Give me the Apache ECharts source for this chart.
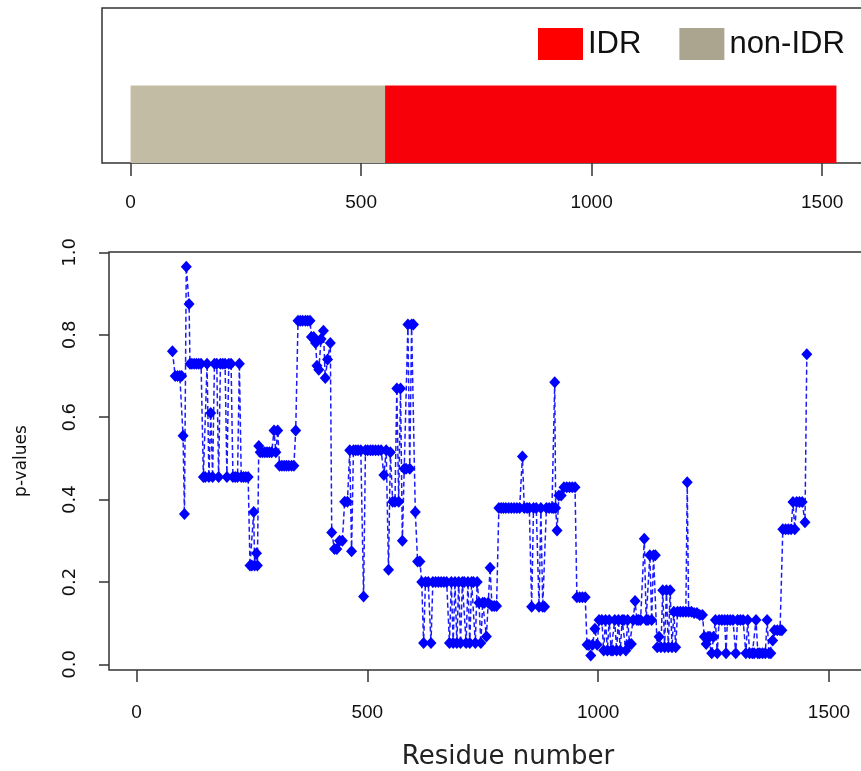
<!DOCTYPE html>
<html>
<head>
<meta charset="utf-8">
<title>IDR p-values</title>
<script src="https://cdn.jsdelivr.net/npm/echarts@6/dist/echarts.min.js"></script>
<style>
  html, body { margin: 0; padding: 0; background: #fff; }
  #chart { width: 861px; height: 771px; }
</style>
</head>
<body>
<div id="chart"></div>
<script>
// top panel: region segments
const segmentNames = ['non-IDR', 'IDR']
const segmentStart = [0, 552]
const segmentEnd = [552, 1531]

// bottom panel: p-value per residue
const residueNumber = [
  78, 84, 89, 94, 98, 101, 104, 108, 114, 116, 120, 125, 130, 135, 140,
  145, 149, 153, 157, 161, 165, 169, 174, 178, 182, 187, 192, 196, 200, 205,
  209, 214, 219, 223, 227, 232, 237, 242, 246, 250, 254, 256, 260, 262, 265,
  268, 273, 278, 283, 288, 293, 298, 302, 306, 310, 315, 320, 325, 330, 336,
  341, 345, 350, 355, 360, 366, 371, 376, 379, 384, 388, 391, 395, 400, 405,
  409, 414, 420, 423, 429, 434, 440, 446, 451, 457, 462, 466, 470, 475, 480,
  486, 492, 496, 501, 507, 512, 518, 524, 530, 536, 541, 546, 550, 555, 560,
  564, 568, 572, 576, 580, 584, 588, 592, 596, 600, 604, 609, 614, 618, 622,
  626, 632, 638, 642, 648, 654, 660, 666, 672, 678, 682, 686, 690, 694, 698,
  702, 706, 710, 714, 718, 722, 726, 730, 734, 738, 742, 746, 750, 754, 758,
  762, 766, 770, 775, 780, 785, 790, 795, 800, 806, 812, 818, 824, 830, 836,
  840, 846, 851, 856, 860, 866, 872, 876, 880, 884, 888, 894, 900, 904, 906,
  908, 911, 915, 920, 926, 932, 938, 944, 950, 954, 960, 966, 972, 976, 980,
  984, 988, 993, 998, 1002, 1008, 1012, 1016, 1020, 1024, 1028, 1032, 1036, 1040, 1044,
  1048, 1052, 1056, 1060, 1064, 1068, 1072, 1076, 1080, 1084, 1088, 1092, 1100, 1104, 1108,
  1112, 1116, 1120, 1124, 1128, 1132, 1136, 1140, 1144, 1148, 1152, 1156, 1160, 1164, 1168,
  1172, 1178, 1184, 1190, 1193, 1196, 1202, 1208, 1214, 1220, 1226, 1230, 1234, 1238, 1242,
  1246, 1250, 1254, 1258, 1262, 1268, 1274, 1277, 1280, 1286, 1292, 1298, 1302, 1308, 1314,
  1320, 1324, 1328, 1334, 1338, 1342, 1346, 1350, 1356, 1362, 1366, 1370, 1374, 1378, 1382,
  1388, 1394, 1398, 1400, 1406, 1412, 1418, 1422, 1426, 1430, 1436, 1442, 1448, 1452
]
const pValue = [
  0.76, 0.70, 0.70, 0.70, 0.70, 0.555, 0.365, 0.965, 0.875, 0.73, 0.73, 0.73, 0.73, 0.73, 0.73,
  0.455, 0.455, 0.73, 0.455, 0.61, 0.455, 0.73, 0.73, 0.455, 0.73, 0.73, 0.73, 0.455, 0.73, 0.73,
  0.455, 0.455, 0.455, 0.73, 0.455, 0.455, 0.455, 0.455, 0.24, 0.24, 0.37, 0.24, 0.27, 0.24, 0.53,
  0.515, 0.515, 0.515, 0.515, 0.515, 0.515, 0.568, 0.515, 0.568, 0.482, 0.482, 0.482, 0.482, 0.482, 0.482,
  0.482, 0.568, 0.834, 0.834, 0.834, 0.834, 0.834, 0.834, 0.795, 0.795, 0.78, 0.725, 0.715, 0.79, 0.81,
  0.695, 0.74, 0.78, 0.32, 0.28, 0.28, 0.30, 0.30, 0.395, 0.395, 0.52, 0.275, 0.52, 0.52, 0.52,
  0.52, 0.165, 0.52, 0.52, 0.52, 0.52, 0.52, 0.52, 0.52, 0.46, 0.52, 0.23, 0.515, 0.395, 0.395,
  0.67, 0.395, 0.67, 0.30, 0.475, 0.475, 0.825, 0.475, 0.825, 0.825, 0.37, 0.25, 0.25, 0.20, 0.052,
  0.20, 0.20, 0.052, 0.20, 0.20, 0.20, 0.20, 0.20, 0.20, 0.052, 0.20, 0.052, 0.20, 0.052, 0.20,
  0.052, 0.20, 0.20, 0.052, 0.20, 0.052, 0.20, 0.20, 0.052, 0.20, 0.15, 0.052, 0.15, 0.15, 0.068,
  0.15, 0.235, 0.142, 0.142, 0.142, 0.38, 0.38, 0.38, 0.38, 0.38, 0.38, 0.38, 0.38, 0.38, 0.505,
  0.38, 0.38, 0.38, 0.14, 0.38, 0.38, 0.14, 0.38, 0.14, 0.14, 0.38, 0.38, 0.38, 0.38, 0.685,
  0.38, 0.325, 0.41, 0.41, 0.43, 0.43, 0.43, 0.43, 0.43, 0.163, 0.163, 0.163, 0.163, 0.048, 0.048,
  0.022, 0.048, 0.087, 0.048, 0.108, 0.108, 0.034, 0.108, 0.034, 0.108, 0.034, 0.034, 0.108, 0.034, 0.108,
  0.034, 0.108, 0.108, 0.034, 0.108, 0.05, 0.05, 0.108, 0.154, 0.108, 0.108, 0.108, 0.305, 0.108, 0.108,
  0.265, 0.108, 0.265, 0.265, 0.042, 0.067, 0.042, 0.18, 0.042, 0.18, 0.042, 0.18, 0.042, 0.128, 0.042,
  0.128, 0.128, 0.128, 0.128, 0.442, 0.128, 0.128, 0.125, 0.125, 0.12, 0.12, 0.067, 0.05, 0.067, 0.067,
  0.027, 0.067, 0.108, 0.027, 0.108, 0.108, 0.108, 0.027, 0.108, 0.108, 0.108, 0.027, 0.108, 0.108, 0.108,
  0.027, 0.108, 0.027, 0.027, 0.027, 0.108, 0.027, 0.027, 0.027, 0.027, 0.108, 0.027, 0.027, 0.058, 0.083,
  0.083, 0.083, 0.083, 0.328, 0.328, 0.328, 0.328, 0.394, 0.328, 0.394, 0.394, 0.394, 0.345, 0.753
]

const xTicks = [0, 500, 1000, 1500]
const yTicks = [0, 0.2, 0.4, 0.6, 0.8, 1.0]

const barTop = 0.5
const segmentColors = { 'non-IDR': '#c3bca4', 'IDR': '#f8000a' }
const legendColors = { 'IDR': '#ff0000', 'non-IDR': '#aba48e' }

const chart = echarts.init(document.getElementById('chart'))

const renderSegment = (params, api) => {
  const p0 = api.coord([api.value(0), barTop])
  const p1 = api.coord([api.value(1), 0])
  return {
    type: 'rect',
    shape: { x: p0[0], y: p0[1], width: p1[0] - p0[0], height: p1[1] - p0[1] },
    style: api.style()
  }
}

const segmentSeries = segmentNames.map((name, i) => ({
  name: name,
  type: 'custom',
  xAxisIndex: 0,
  yAxisIndex: 0,
  renderItem: renderSegment,
  itemStyle: { color: segmentColors[name] },
  encode: { x: [0, 1] },
  data: [[segmentStart[i], segmentEnd[i]]]
}))

const points = residueNumber.map((r, i) => [r, pValue[i]])

const axisFont = { fontFamily: 'Liberation Sans', fontSize: 19, color: '#111', formatter: (v) => String(v) }

const option = {
  animation: false,
  backgroundColor: '#fff',
  legend: {
    orient: 'horizontal',
    left: 538,
    top: 28,
    width: 330,
    padding: 0,
    itemWidth: 45,
    itemHeight: 32,
    itemGap: 38,
    icon: 'rect',
    textStyle: { fontFamily: 'Liberation Sans', fontSize: 31, color: '#111' },
    data: [
      { name: 'IDR', itemStyle: { color: legendColors['IDR'] } },
      { name: 'non-IDR', itemStyle: { color: legendColors['non-IDR'] } }
    ]
  },
  grid: [
    { left: 102, top: 8, width: 769, height: 155, outerBoundsMode: 'none', containLabel: false, show: true, borderColor: '#333', borderWidth: 1.5, backgroundColor: '#fff' },
    { left: 109, top: 252, width: 762, height: 418, outerBoundsMode: 'none', containLabel: false, show: true, borderColor: '#333', borderWidth: 1.5, backgroundColor: '#fff' }
  ],
  xAxis: [
    {
      gridIndex: 0, type: 'value', min: -62, max: 1606,
      axisLine: { show: false, onZero: false },
      splitLine: { show: false },
      axisTick: { show: true, length: 13, customValues: xTicks, lineStyle: { color: '#333', width: 1.5 } },
      axisLabel: { customValues: xTicks, margin: 30, ...axisFont }
    },
    {
      gridIndex: 1, type: 'value', min: -59.4, max: 1591,
      axisLine: { show: false, onZero: false },
      splitLine: { show: false },
      axisTick: { show: true, length: 12, customValues: xTicks, lineStyle: { color: '#333', width: 1.5 } },
      axisLabel: { customValues: xTicks, margin: 33, ...axisFont }
    }
  ],
  yAxis: [
    {
      gridIndex: 0, type: 'value', min: 0, max: 1,
      axisLine: { show: false, onZero: false }, axisTick: { show: false },
      axisLabel: { show: false }, splitLine: { show: false }
    },
    {
      gridIndex: 1, type: 'value', min: -0.0134, max: 1.001,
      name: 'p-values',
      nameLocation: 'middle',
      nameRotate: 90,
      nameGap: 79,
      nameTextStyle: { fontFamily: 'DejaVu Sans', fontSize: 17, color: '#111' },
      axisLine: { show: false, onZero: false },
      splitLine: { show: false },
      axisTick: { show: true, length: 10, customValues: yTicks, lineStyle: { color: '#333', width: 1.5 } },
      axisLabel: {
        customValues: yTicks,
        rotate: 90,
        margin: 30,
        formatter: (v) => v.toFixed(1),
        fontFamily: 'DejaVu Sans', fontSize: 18, color: '#111'
      }
    }
  ],
  graphic: [
    {
      type: 'text',
      x: 508,
      y: 757,
      style: {
        text: 'Residue number',
        fontFamily: 'DejaVu Sans',
        fontSize: 26,
        fill: '#222',
        align: 'center',
        verticalAlign: 'middle'
      }
    }
  ],
  series: [
    ...segmentSeries,
    {
      name: 'p-value',
      type: 'line',
      xAxisIndex: 1,
      yAxisIndex: 1,
      showAllSymbol: true,
      symbol: 'diamond',
      symbolSize: [11, 12],
      itemStyle: { color: '#0000ff' },
      lineStyle: { color: '#1a1aff', width: 1.5, type: [5, 3] },
      data: points
    }
  ]
}

option && chart.setOption(option)
</script>
</body>
</html>
